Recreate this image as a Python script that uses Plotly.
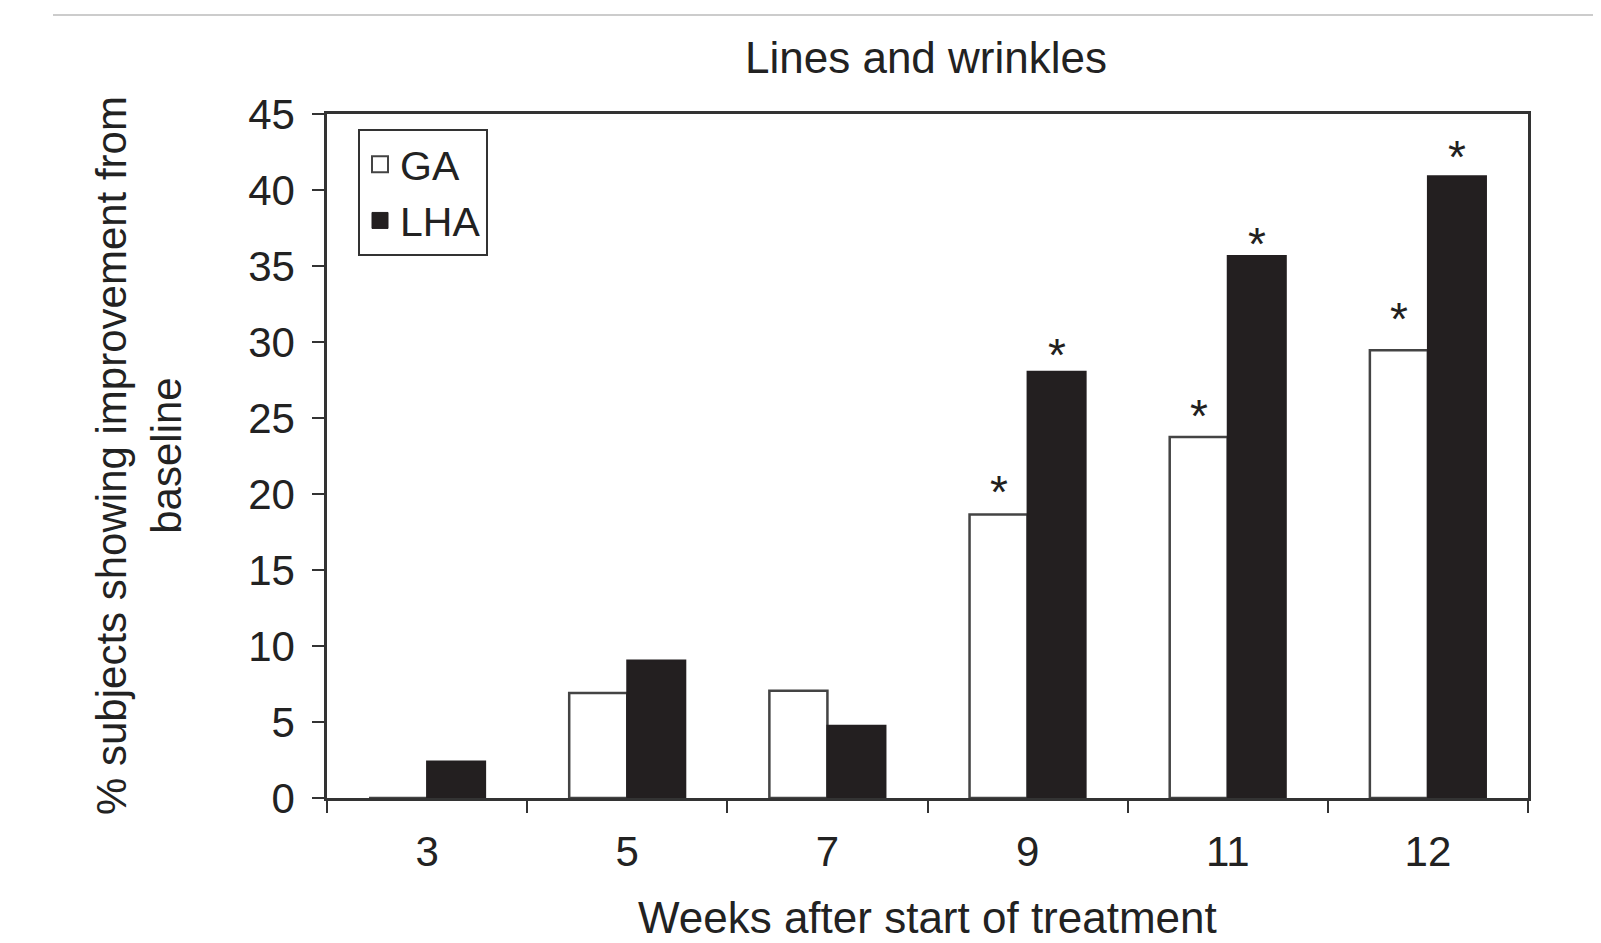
import plotly.graph_objects as go

weeks = ["3", "5", "7", "9", "11", "12"]
ga = [0.0, 6.9, 7.05, 18.65, 23.75, 29.45]
lha = [2.4, 9.05, 4.75, 28.05, 35.65, 40.9]
# asterisk positions (data units)
star_ga = [None, None, None, 20.6, 25.6, 32.0]
star_lha = [None, None, None, 29.6, 36.9, 42.6]

FONT = "Liberation Sans, Arial, sans-serif"
INK = "#231f20"
GA_LINE = "#444444"

OFF = 8  # default page body margin
W, H = 1601 - 2 * OFF, 943 - 2 * OFF
L, R, T, B = 327 - OFF, 1528 - OFF, 114 - OFF, 798 - OFF
pw, ph = R - L, B - T


def px(x):
    return (x - OFF - L) / pw


def py(y):
    return (B - (y - OFF)) / ph


fig = go.Figure()
fig.add_trace(go.Bar(x=weeks, y=ga, name="GA", showlegend=False,
                     marker=dict(color="white", line=dict(color=GA_LINE, width=2.5))))
fig.add_trace(go.Bar(x=weeks, y=lha, name="LHA", showlegend=False,
                     marker=dict(color=INK, line=dict(color=INK, width=2))))
# legend entries with larger square symbols
fig.add_trace(go.Scatter(x=[None], y=[None], mode="markers", name="GA",
                         marker=dict(symbol="square", size=16, color="white",
                                     line=dict(color=GA_LINE, width=2))))
fig.add_trace(go.Scatter(x=[None], y=[None], mode="markers", name="LHA",
                         marker=dict(symbol="square", size=16, color=INK,
                                     line=dict(color=INK, width=1))))

for i, s in enumerate(star_ga):
    if s is not None:
        fig.add_annotation(x=i, y=s, text="*", showarrow=False, xshift=-29, yshift=-7,
                           yanchor="middle", font=dict(size=46, color=INK, family=FONT))
for i, s in enumerate(star_lha):
    if s is not None:
        fig.add_annotation(x=i, y=s, text="*", showarrow=False, xshift=29, yshift=-7,
                           yanchor="middle", font=dict(size=46, color=INK, family=FONT))

fig.add_annotation(x=px(926), y=py(58), xref="paper", yref="paper", text="Lines and wrinkles",
                   showarrow=False, xanchor="center", yanchor="middle",
                   font=dict(size=44, color="#222", family=FONT))
fig.add_annotation(x=px(927), y=py(917), xref="paper", yref="paper", text="Weeks after start of treatment",
                   showarrow=False, xanchor="center", yanchor="middle",
                   font=dict(size=44, color="#222", family=FONT))
fig.add_annotation(x=px(139), y=0.5, xref="paper", yref="paper",
                   text="% subjects showing improvement from<br>baseline", textangle=-90,
                   showarrow=False, xanchor="center", yanchor="middle",
                   font=dict(size=42, color="#222", family=FONT))

fig.add_shape(type="line", xref="paper", yref="paper", x0=px(53), x1=px(1601), y0=py(15), y1=py(15),
              line=dict(color="#cccccc", width=2))

fig.update_layout(
    width=W, height=H,
    margin=dict(l=L, r=W - R, t=T, b=H - B, pad=0),
    plot_bgcolor="white", paper_bgcolor="white",
    barmode="group", bargap=0.42, bargroupgap=0,
    font=dict(family=FONT, color="#222", size=40),
    legend=dict(x=px(358), y=py(129), xanchor="left", yanchor="top",
                bordercolor="#333", borderwidth=2, bgcolor="white",
                font=dict(size=41, family=FONT, color="#222"),
                itemsizing="trace", tracegroupgap=0),
    showlegend=True,
)
fig.update_xaxes(type="category", range=[-0.5, len(weeks) - 0.5], tickson="boundaries",
                 ticks="outside", ticklen=12, tickwidth=2, ticklabelstandoff=15,
                 tickcolor="#333", showline=True, linecolor="#333", linewidth=2.5, mirror=True,
                 showgrid=False, tickfont=dict(size=42, family=FONT, color="#222"))
fig.update_yaxes(range=[0, 45], dtick=5, ticks="outside", ticklen=12, tickwidth=2, tickcolor="#333",
                 ticklabelstandoff=9,
                 showline=True, linecolor="#333", linewidth=2.5, mirror=True, showgrid=False,
                 zeroline=False, tickfont=dict(size=42, family=FONT, color="#222"))

fig.write_html("out.html")
